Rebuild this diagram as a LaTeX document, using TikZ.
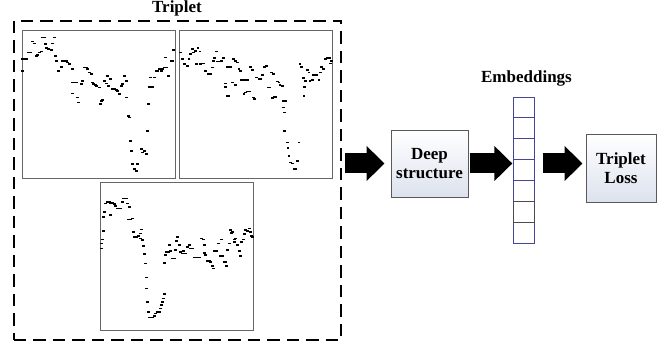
\documentclass[tikz,border=0pt]{standalone}
\usepackage{fontspec}
\setmainfont{Liberation Serif}
\usetikzlibrary{positioning,arrows.meta,fit,backgrounds}
\definecolor{cellblue}{RGB}{70,70,150}
\definecolor{boxshade}{RGB}{220,226,238}
% scattered samples of one series, read off in 1/3 px steps from the panel corner
\newcommand{\samples}[2]{%
  \begin{scope}[shift={(#1.north west)}]
    \foreach \u/\v in {#2}
      \fill (\u/3-3.5,\v/3-2.8) rectangle ++(2.8,1.7);
  \end{scope}}

\begin{document}
\begin{tikzpicture}[
  x=1pt,y=-1pt,
  font=\bfseries\fontsize{17}{19}\selectfont,
  panel/.style={draw=black!60,line width=0.9pt,minimum width=153pt,minimum height=148pt,inner sep=0pt},
  group/.style={draw,line width=2pt,dash pattern=on 12.5pt off 7pt,inner sep=8pt},
  stage/.style={draw=black!65,line width=0.9pt,top color=white,bottom color=boxshade,align=center,inner sep=0pt},
  cell/.style={draw=cellblue,line width=0.9pt,minimum width=21pt,minimum height=20.86pt,inner sep=0pt},
  lbl/.style={inner sep=0pt},
  flow/.style={line width=20pt,-{Triangle[length=18pt,width=34pt]}},
]
\useasboundingbox (0,0) rectangle (670,350);

% the three series of the triplet
\node[panel] (pa) at (98.5,104) {};
\node[panel,right=4pt of pa] (pb) {};
\node[panel] (pc) at (176.5,256.5) {};

\samples{pa}{10/95,15/95,20/95,8/130,28/75,33/75,40/42,45/48,50/85,55/82,60/75,65/72,70/30,75/30,78/50,82/62,88/65,95/68,100/48,105/30,108/85,112/100,116/130,125/118,130/100,135/100,140/100,145/105,150/110,158/125,160/165,165/165,170/165,158/198,175/210,178/225,185/170,190/160,195/120,200/120,205/125,210/135,215/140,218/165,222/170,228/172,232/175,240/180,242/230,245/220,250/218,255/160,260/168,265/145,268/175,272/155,278/185,285/185,290/188,295/190,300/200,305/175,310/170,315/145,320/160,322/210,328/265,330/270,332/340,335/370,340/410,345/425,350/430,355/410,365/365,370/375,375/370,380/380,385/310,388/230,390/178,395/178,400/178,392/150,405/150,410/130,415/130,420/125,425/130,430/125,435/120,438/90,442/120,448/145,455/100,460/100,462/68}

\samples{pb}{10/75,15/95,22/110,30/115,35/95,40/80,45/65,48/75,55/70,62/62,68/72,58/110,70/110,78/108,85/130,92/140,100/140,105/120,108/100,112/92,118/72,120/102,128/102,132/100,138/92,150/118,145/168,145/178,150/205,155/205,160/118,165/165,168/95,175/100,180/105,175/172,185/125,190/130,192/158,198/158,205/158,212/158,200/200,205/195,210/192,218/192,220/118,225/128,228/210,232/215,238/150,245/155,250/155,255/142,262/118,268/115,272/180,278/180,282/135,288/140,285/212,290/208,295/208,300/162,305/165,308/172,315/175,318/220,325/220,318/240,322/255,322/310,330/345,332/362,335/385,340/405,345/408,350/425,355/425,360/400,365/345,368/110,372/118,378/152,382/178,380/205,385/160,390/128,395/135,398/160,405/158,408/142,412/142,418/142,425/158,430/135,432/118,438/125,445/95,450/92,458/92,460/108,462/100}

\samples{pc}{12/205,12/190,15/178,18/152,18/110,22/95,25/70,30/65,35/65,40/68,45/68,50/72,55/78,60/85,65/85,70/85,75/65,78/55,82/55,88/55,90/70,95/80,40/105,92/118,98/118,105/115,108/155,112/170,118/170,122/168,128/160,132/148,130/175,135/180,138/198,140/222,145/250,148/292,148/325,150/365,152/395,155/412,160/412,165/412,170/408,175/400,180/395,185/395,190/385,192/375,195/365,198/355,200/342,202/248,205/225,208/215,212/215,215/195,218/212,225/235,230/235,235/210,238/182,240/170,245/195,250/215,255/220,258/212,265/220,270/200,275/195,280/205,285/205,290/232,295/232,300/232,305/232,312/175,318/178,320/195,322/218,325/225,330/242,335/242,340/245,345/258,348/265,352/212,358/212,362/190,368/228,372/178,375/228,380/245,385/245,388/258,390/210,395/190,398/150,402/158,405/155,410/185,412/178,415/175,420/195,425/212,428/228,432/185,438/178,440/162,445/150,450/152,455/145,458/155,462/168,465/170}

\begin{scope}[on background layer]
  \node[group,fit=(pa)(pb)(pc),inner ysep=9pt] (trip) {};
\end{scope}
\node[lbl] (triplbl) at (177,8) {Triplet};

% network and embedding vector
\node[stage,minimum width=77pt,minimum height=67pt] (deep) at (429.5,163.5) {Deep\\structure};
\foreach \i in {1,...,7}
  \node[cell] (e\i) at (523.5,{97+20.86*(\i-0.5)}) {};
\node[cell,draw=black!70] at (e6) {};
\node[fit=(e1)(e7),inner sep=0pt] (emb) {};
\node[lbl] (emblbl) at (526.5,78) {Embeddings};
\node[stage,minimum width=70pt,minimum height=68pt] (loss) at (621,168) {Triplet\\Loss};

% block arrows
\draw[flow,shorten <=3pt,shorten >=6pt] (trip.east |- deep.west) -- (deep.west);
\draw[flow,shorten <=2pt] (deep.east) -- (emb.west |- deep.east);
\draw[flow,shorten <=8pt,shorten >=3pt] (emb.east |- deep.east) -- (loss.west |- deep.east);
\end{tikzpicture}
\end{document}
